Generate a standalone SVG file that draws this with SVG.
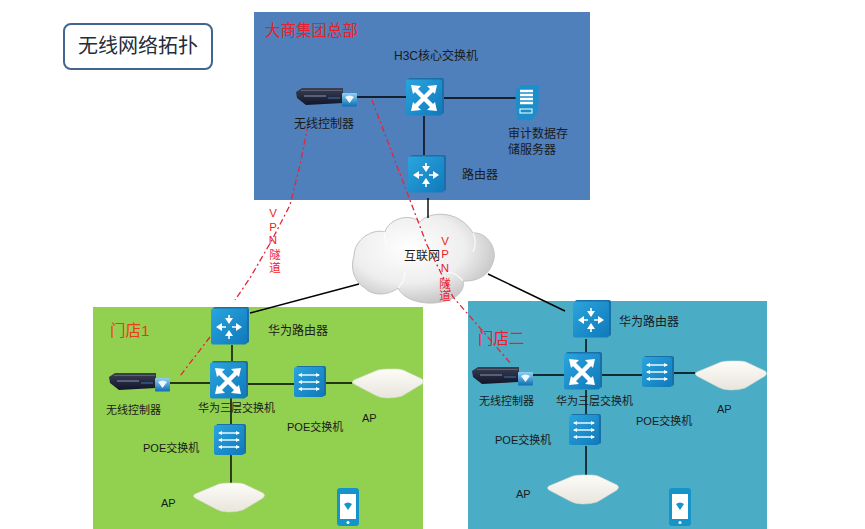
<svg xmlns="http://www.w3.org/2000/svg" width="865" height="529" viewBox="0 0 865 529">
<style>
text{font-family:"Liberation Sans","Noto Sans CJK SC",sans-serif;font-size:11px;fill:#1a1a1a}
.l12{font-size:12px}
.red{fill:#e8202a;font-size:15.5px}
.vpn{fill:#f01c24;font-size:11.5px;text-anchor:middle}
.solid{stroke:#000;stroke-width:1.4;fill:none}
.dash{stroke:#e3263a;stroke-width:1.3;fill:none;stroke-dasharray:6 3 2 3}
</style>
<defs>
<linearGradient id="tile" x1="0" y1="0" x2="1" y2="1"><stop offset="0" stop-color="#2aa5de"/><stop offset="1" stop-color="#1079ba"/></linearGradient>
<linearGradient id="apg" x1="0" y1="0" x2="0" y2="1"><stop offset="0" stop-color="#fdfcf8"/><stop offset="1" stop-color="#e8e5dc"/></linearGradient>
<radialGradient id="cg" cx="0.4" cy="0.38" r="0.72"><stop offset="0" stop-color="#fff"/><stop offset="0.55" stop-color="#eeeeee"/><stop offset="1" stop-color="#b8b8b8"/></radialGradient>
<linearGradient id="rack" x1="0" y1="0" x2="0" y2="1"><stop offset="0" stop-color="#3a3f52"/><stop offset="1" stop-color="#10152a"/></linearGradient>
<linearGradient id="badge" x1="0" y1="0" x2="0" y2="1"><stop offset="0" stop-color="#8fd0f2"/><stop offset="1" stop-color="#0c6fb4"/></linearGradient>
<g id="base"><rect x="2" y="0" width="36" height="36" rx="2" fill="#1a6fa8"/><rect x="0" y="1.500" width="36" height="36" rx="2" fill="url(#tile)"/></g>
<g id="sw"><use href="#base"/>
<path d="M10,12 L26,28 M26,12 L10,28" stroke="#fff" stroke-width="4.500"/>
<path d="M5,7 L15,8 L7,16 Z M31,7 L29,16 L21,8 Z M5,33 L7,24 L15,32 Z M31,33 L21,32 L29,24 Z" fill="#fff"/></g>
<g id="rt"><use href="#base"/>
<path d="M7,20 H15 M21,20 H29 M18,8 V16 M18,24 V32" stroke="#fff" stroke-width="1.600"/>
<path d="M5,20 L11,16 V24 Z M31,20 L25,16 V24 Z M18,17 L14,11 H22 Z M18,23 L14,29 H22 Z" fill="#fff"/></g>
<g id="poe"><rect x="2" y="0" width="30" height="30" rx="2" fill="#1a6fa8"/><rect x="0" y="1" width="30" height="30" rx="2" fill="url(#tile)"/>
<path d="M5,9 H25 M5,16 H25 M5,23 H25" stroke="#e8f6fd" stroke-width="1.400"/>
<path d="M4,9 L8,7 V11 Z M26,9 L22,7 V11 Z M4,16 L8,14 V18 Z M26,16 L22,14 V18 Z M4,23 L8,21 V25 Z M26,23 L22,21 V25 Z" fill="#fff"/></g>
<g id="ap"><path d="M2,11 L26,1 Q30,0 36,0 L44,0 Q48,0 51,1 L70,10 Q73,12 70,15 L50,27 Q44,29 36,29 Q28,29 23,26 L2,15 Q-1,13 2,11 Z" fill="url(#apg)" stroke="#dcd9d0" stroke-width="0.600"/></g>
<g id="ctl"><path d="M0,4 L6,0 H47 V15 L10,17 L1,10 Z" fill="url(#rack)"/><path d="M5,2.500 H46" stroke="#5a6078" stroke-width="1"/><path d="M8,8 H30" stroke="#7c839c" stroke-width="1.200"/><path d="M32,10 H44" stroke="#2e4c78" stroke-width="2"/>
<rect x="46" y="5" width="15" height="13.500" rx="1" fill="url(#badge)"/><path d="M49,9 Q53.500,6 58,9 L53.500,15 Z" fill="#fff" opacity="0.9"/></g>
<g id="phone"><rect width="22" height="38" rx="3" fill="#1693c9"/><rect x="3" y="6" width="16" height="25" fill="#fff"/><circle cx="11" cy="34.500" r="1.500" fill="#fff"/><path d="M7,16 Q11,13 15,16 L11,22 Z" fill="#1693c9"/></g>
<path id="srv" d="M0,6 L7,1 H24 L23,28 L17,36 H2 Z" fill="#1a8fcb"/>
</defs>

<rect id="region-hq" x="254" y="12" width="336" height="188" fill="#4f80bb"/>
<rect id="region-store1" x="93" y="307" width="330" height="222" fill="#92d050"/>
<rect id="region-store2" x="468" y="301" width="299" height="228" fill="#4bacc6"/>

<g id="title"><rect x="64" y="24" width="148" height="45" rx="7" fill="#fff" stroke="#41668f" stroke-width="2"/><text x="78" y="53" style="font-size:20px;fill:#222c3a">无线网络拓扑</text></g>

<g id="cloud"><path d="M385,232 C388,220 408,212 420,222 C428,212 458,208 473,233 C488,232 498,250 493,262 C490,274 478,282 463,281 C466,295 448,304 427,303 C412,302 402,296 398,288 C388,296 372,296 365,288 C354,282 350,268 354,256 C354,240 372,228 385,232 Z" fill="url(#cg)" stroke="#c2c2c2" stroke-width="1"/><path d="M385,232C384,238 385,242 387,246M473,233C476,240 476,246 473,252M463,281C458,275 452,272 447,272M398,288C403,283 405,278 405,272" fill="none" stroke="#fff" stroke-width="1.200" opacity="0.8"/><text class="l12" x="404" y="260">互联网</text></g>

<g id="connectors">
<path class="solid" d="M357,97H406 M442,98H516 M424,116V155 M428,198V218"/>
<path class="solid" d="M250,313L359,284 M488,274L565,311"/>
<path class="solid" d="M232,345V362 M170,383H210 M246,384H294 M325,383H352 M231,398V424 M231,455V483"/>
<path class="solid" d="M586,339V353 M533,375H564 M601,375H642 M674,373H695 M586,390V414 M586,446V475"/>
<path class="dash" d="M308,125L300,165L290,205L272,240L250,278L235,300"/>
<path class="dash" d="M210,337L180,376"/>
<path class="dash" d="M372,100L427,245L453,297L480,328L512,365"/>
</g>

<g id="hq-controller"><use href="#ctl" x="296" y="88"/><text class="l12" x="294" y="128">无线控制器</text></g>
<g id="hq-switch"><use href="#sw" x="406" y="78"/><text class="l12" x="394" y="60">H3C核心交换机</text></g>
<g id="hq-server"><use href="#srv" x="515" y="84"/><path d="M520,91H533M520,95H533M520,99H533M520,103H533" stroke="#fff" stroke-width="2.400"/><rect x="520" y="109" width="12" height="4" fill="none" stroke="#fff"/><text class="l12" x="508" y="138">审计数据存</text><text class="l12" x="508" y="154">储服务器</text></g>
<g id="hq-router"><use href="#rt" x="408" y="155"/><text class="l12" x="462" y="179">路由器</text></g>
<text class="red" x="265" y="36">大商集团总部</text>

<g id="s1-router"><use href="#rt" x="211" y="307"/><text class="l12" x="268" y="335">华为路由器</text></g>
<g id="s1-switch"><use href="#sw" x="210" y="361"/><text x="198" y="412">华为三层交换机</text></g>
<g id="s1-controller"><use href="#ctl" x="109" y="373"/><text x="106" y="414">无线控制器</text></g>
<g id="s1-poe1"><use href="#poe" x="294" y="366"/><text x="287" y="431">POE交换机</text></g>
<g id="s1-poe2"><use href="#poe" x="214" y="424"/><text x="143" y="452">POE交换机</text></g>
<g id="s1-ap1"><use href="#ap" x="352" y="369"/><text x="362" y="422">AP</text></g>
<g id="s1-ap2"><use href="#ap" x="193" y="483"/><text x="161" y="507">AP</text></g>
<g id="s1-phone"><use href="#phone" x="337" y="488"/></g>
<text class="red" x="110" y="336" style="fill:#e83a1c">门店1</text>

<g id="s2-router"><use href="#rt" x="573" y="300"/><text class="l12" x="619" y="326">华为路由器</text></g>
<g id="s2-switch"><use href="#sw" x="564" y="352"/><text x="556" y="405">华为三层交换机</text></g>
<g id="s2-controller"><use href="#ctl" x="472" y="367"/><text x="479" y="405">无线控制器</text></g>
<g id="s2-poe1"><use href="#poe" x="642" y="356"/><text x="636" y="425">POE交换机</text></g>
<g id="s2-poe2"><use href="#poe" x="569" y="414"/><text x="495" y="444">POE交换机</text></g>
<g id="s2-ap1"><use href="#ap" x="695" y="361"/><text x="717" y="413">AP</text></g>
<g id="s2-ap2"><use href="#ap" x="547" y="475"/><text x="516" y="498">AP</text></g>
<g id="s2-phone"><use href="#phone" x="669" y="488"/></g>
<text class="red" x="478" y="344">门店二</text>

<g id="vpn-left"><text class="vpn" x="273" y="217">V</text><text class="vpn" x="273" y="231">P</text><text class="vpn" x="273" y="244">N</text><text class="vpn" x="275" y="259">隧</text><text class="vpn" x="275" y="272">道</text></g>
<g id="vpn-right"><text class="vpn" x="445" y="245">V</text><text class="vpn" x="445" y="258">P</text><text class="vpn" x="445" y="272">N</text><text class="vpn" x="445" y="288">隧</text><text class="vpn" x="445" y="300">道</text></g>
</svg>
